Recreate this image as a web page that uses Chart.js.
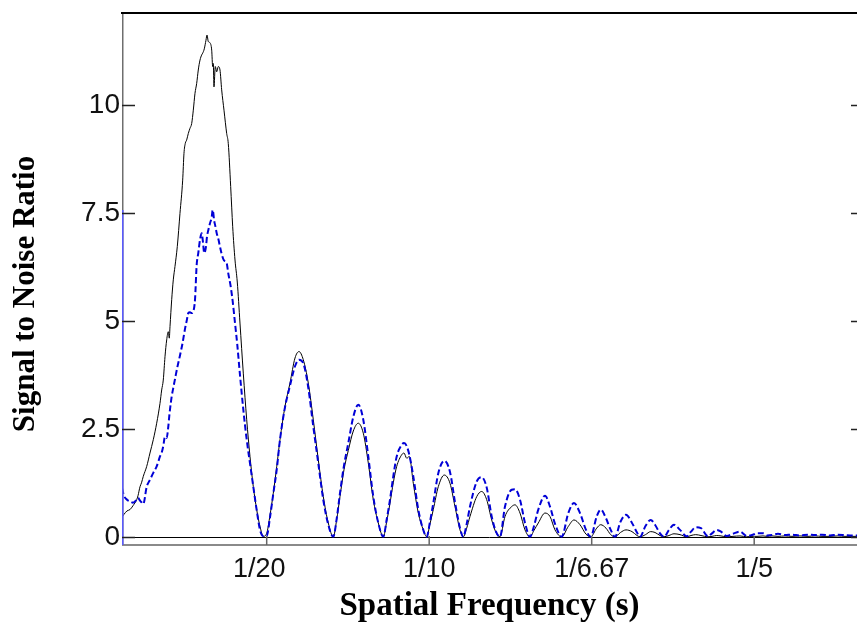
<!DOCTYPE html>
<html>
<head>
<meta charset="utf-8">
<script src="https://cdn.jsdelivr.net/npm/chart.js@4.4.1/dist/chart.umd.min.js"></script>
<style>
html,body{margin:0;padding:0;background:#fff;}
#wrap{width:857px;height:629px;position:relative;}
</style>
</head>
<body>
<div id="wrap"><canvas id="c"></canvas></div>
<script>
// Spatial frequency (1/s) of each sample
const frequency = [
0.00548,0.00609,0.00702,0.00794,0.00886,0.01000,0.01040,0.01102,0.01148,0.01203,
0.01308,0.01409,0.01511,0.01615,0.01717,0.01769,0.01818,0.01871,0.01923,0.01972,
0.02003,0.02025,0.02077,0.02126,0.02178,0.02249,0.02332,0.02415,0.02455,0.02495,
0.02538,0.02588,0.02640,0.02692,0.02742,0.02794,0.02846,0.02895,0.02948,0.03000,
0.03031,0.03080,0.03132,0.03163,0.03203,0.03255,0.03308,0.03338,0.03357,0.03378,
0.03418,0.03462,0.03511,0.03563,0.03615,0.03686,0.03769,0.03818,0.03892,0.03954,
0.04025,0.04095,0.04178,0.04280,0.04385,0.04486,0.04588,0.04692,0.04794,0.04895,
0.05000,0.05102,0.05203,0.05308,0.05409,0.05563,0.05717,0.05871,0.05994,0.06126,
0.06280,0.06434,0.06588,0.06742,0.06895,0.07049,0.07154,0.07255,0.07378,0.07511,
0.07665,0.07818,0.07972,0.08126,0.08280,0.08434,0.08588,0.08692,0.08794,0.08895,
0.09000,0.09154,0.09225,0.09308,0.09388,0.09511,0.09665,0.09818,0.09923,0.10025,
0.10126,0.10280,0.10465,0.10640,0.10794,0.10948,0.11049,0.11154,0.11255,0.11462,
0.11615,0.11769,0.11923,0.12055,0.12178,0.12332,0.12538,0.12640,0.12794,0.12948,
0.13102,0.13225,0.13357,0.13563,0.13717,0.13871,0.14077,0.14280,0.14455,0.14640,
0.14825,0.14969,0.15154,0.15277,0.15440,0.15585,0.15717,0.15886,0.16055,0.16240,
0.16394,0.16486,0.16655,0.16815,0.16948,0.17102,0.17225,0.17378,0.17532,0.17717,
0.17923,0.18055,0.18200,0.18363,0.18578,0.18702,0.18846,0.18978,0.19154,0.19348,
0.19563,0.19769,0.19932,0.20086,0.20271,0.20394,0.20548,0.20732,0.20948,0.21163,
0.21409,0.21655,0.21871,0.22086,0.22332,0.22578,0.22794,0.23009,0.23163
];
// Solid black series
const snrSolid = [
0.46,0.52,0.60,0.63,0.72,0.86,0.95,1.16,1.25,1.40,
1.63,1.94,2.25,2.63,3.09,3.40,3.63,4.17,4.56,4.75,
4.60,4.87,5.49,5.95,6.26,6.72,7.49,8.26,8.88,9.11,
9.19,9.34,9.46,9.57,9.88,10.27,10.50,10.81,11.04,11.16,
11.20,11.30,11.50,11.62,11.47,11.44,11.27,10.89,10.96,10.42,
10.89,10.77,10.89,10.81,10.35,9.88,9.34,9.11,8.11,7.18,
6.41,5.90,4.95,3.79,2.71,1.86,1.16,0.63,0.24,0.01,
0.08,0.50,1.01,1.62,2.25,3.02,3.56,4.14,4.29,4.10,
3.56,2.71,1.78,0.93,0.32,0.00,0.40,0.93,1.55,2.00,
2.45,2.63,2.40,1.71,0.86,0.32,0.00,0.35,0.78,1.25,
1.63,1.90,1.94,1.82,1.86,1.24,0.55,0.16,0.00,0.30,
0.63,1.16,1.43,1.24,0.70,0.16,0.00,0.20,0.47,0.93,
1.05,0.86,0.39,0.10,0.00,0.47,0.70,0.74,0.55,0.16,
0.00,0.15,0.32,0.55,0.47,0.16,0.00,0.24,0.39,0.28,
0.06,0.00,0.20,0.28,0.20,0.05,0.00,0.10,0.16,0.12,
0.03,0.00,0.05,0.12,0.10,0.03,0.00,0.03,0.07,0.05,
0.00,0.03,0.05,0.03,0.00,0.01,0.03,0.02,0.00,0.01,
0.02,0.00,0.01,0.01,0.02,0.01,0.02,0.01,0.02,0.01,
0.02,0.01,0.02,0.01,0.01,0.02,0.01,0.01,0.01
];
// Dashed blue series
const snrDashed = [
1.13,0.95,0.86,0.82,0.79,0.86,0.90,0.84,0.80,0.76,
1.16,1.32,1.48,1.63,1.86,1.95,2.10,2.32,2.29,2.55,
2.80,2.95,3.25,3.45,3.65,3.92,4.20,4.50,4.68,4.85,
5.00,5.18,5.20,5.18,5.22,5.49,6.30,6.57,6.88,7.03,
6.88,6.57,6.72,6.95,7.10,7.26,7.40,7.57,7.50,7.35,
7.20,7.03,6.90,6.72,6.55,6.40,6.34,6.10,5.80,5.45,
4.95,4.45,3.75,2.95,2.25,1.70,1.16,0.62,0.16,0.02,
0.02,0.45,1.00,1.55,2.25,3.00,3.50,3.95,4.10,4.02,
3.45,2.55,1.70,0.85,0.28,0.00,0.42,1.01,1.65,2.17,
2.78,3.06,2.71,1.86,0.93,0.32,0.00,0.40,0.86,1.40,
1.86,2.13,2.17,2.10,1.90,1.40,0.63,0.16,0.00,0.35,
0.78,1.47,1.76,1.50,0.80,0.20,0.00,0.30,0.70,1.28,
1.38,1.14,0.47,0.12,0.00,0.70,1.09,1.10,0.86,0.32,
0.00,0.25,0.63,0.95,0.70,0.30,0.00,0.55,0.78,0.55,
0.16,0.00,0.47,0.63,0.43,0.16,0.00,0.35,0.51,0.32,
0.10,0.00,0.25,0.39,0.28,0.08,0.00,0.16,0.28,0.16,
0.01,0.12,0.22,0.20,0.01,0.08,0.16,0.12,0.02,0.07,
0.12,0.02,0.04,0.08,0.08,0.03,0.04,0.07,0.04,0.05,
0.03,0.05,0.04,0.05,0.03,0.05,0.04,0.03,0.03
];
const xTickValues = [0.05, 0.1, 0.15, 0.2];
const xTickLabels = ['1/20  ', '1/10', '1/6.67', '1/5'];
const yTickValues = [0, 2.5, 5, 7.5, 10];
const yTickLabels = ['0', '2.5', '5', '7.5', '10'];
const xTitle = 'Spatial Frequency (s)';
const yTitle = 'Signal to Noise Ratio';

const solidPoints = frequency.map((f, i) => ({x: f, y: snrSolid[i]}));
const dashedPoints = frequency.map((f, i) => ({x: f, y: snrDashed[i]}));

const framePlugin = {
  id: 'frame',
  beforeDatasetsDraw(chart) {
    const {ctx, chartArea: a, scales: {y}} = chart;
    const y0 = Math.round(y.getPixelForValue(0)) + 0.5;
    ctx.save();
    ctx.strokeStyle = '#000';
    ctx.lineWidth = 1;
    ctx.beginPath();
    ctx.moveTo(a.left, y0);
    ctx.lineTo(a.right, y0);
    ctx.stroke();
    ctx.restore();
  },
  afterDraw(chart) {
    const {ctx, chartArea: a, scales: {x, y}} = chart;
    ctx.save();
    // bottom axis line
    ctx.strokeStyle = '#8a8a8a';
    ctx.lineWidth = 2;
    ctx.beginPath();
    ctx.moveTo(a.left, a.bottom);
    ctx.lineTo(a.right, a.bottom);
    ctx.stroke();
    // left axis line
    ctx.strokeStyle = '#6e6e6e';
    ctx.lineWidth = 1.5;
    ctx.beginPath();
    ctx.moveTo(a.left + 0.75, a.top);
    ctx.lineTo(a.left + 0.75, a.bottom);
    ctx.stroke();
    // blue overlay on left axis up to the dashed series maximum
    const blueTop = y.getPixelForValue(Math.max(...snrDashed));
    ctx.strokeStyle = '#5a5aff';
    ctx.beginPath();
    ctx.moveTo(a.left + 0.75, blueTop);
    ctx.lineTo(a.left + 0.75, a.bottom);
    ctx.stroke();
    // top border
    ctx.strokeStyle = '#000';
    ctx.lineWidth = 2.2;
    ctx.beginPath();
    ctx.moveTo(a.left - 1, a.top);
    ctx.lineTo(a.right, a.top);
    ctx.stroke();
    // y ticks (inside, left and right)
    ctx.strokeStyle = '#222';
    ctx.lineWidth = 1.3;
    yTickValues.forEach(v => {
      const py = Math.round(y.getPixelForValue(v)) + 0.5;
      ctx.beginPath();
      ctx.moveTo(a.left, py);
      ctx.lineTo(a.left + 13, py);
      ctx.moveTo(a.right - 6, py);
      ctx.lineTo(a.right, py);
      ctx.stroke();
    });
    // x ticks (inside, bottom)
    ctx.strokeStyle = '#666';
    ctx.lineWidth = 1.5;
    xTickValues.forEach(v => {
      const px = x.getPixelForValue(v);
      ctx.beginPath();
      ctx.moveTo(px, a.bottom);
      ctx.lineTo(px, a.bottom - 9);
      ctx.stroke();
    });
    // y axis title
    ctx.fillStyle = '#000';
    ctx.font = 'bold 31px "Liberation Serif", "Times New Roman", serif';
    ctx.textAlign = 'center';
    ctx.textBaseline = 'alphabetic';
    ctx.translate(34, (a.top + a.bottom) / 2 + 15);
    ctx.rotate(-Math.PI / 2);
    ctx.fillText(yTitle, 0, 0);
    ctx.restore();
  }
};

new Chart(document.getElementById('c'), {
  type: 'line',
  data: {
    datasets: [
      {
        label: 'dashed',
        data: dashedPoints,
        borderColor: 'rgb(0,0,215)',
        borderWidth: 2,
        borderDash: [6, 3],
        pointRadius: 0,
        fill: false,
        cubicInterpolationMode: 'monotone',
        order: 1
      },
      {
        label: 'solid',
        data: solidPoints,
        borderColor: '#000',
        borderWidth: 1,
        pointRadius: 0,
        fill: false,
        cubicInterpolationMode: 'monotone',
        order: 2
      }
    ]
  },
  options: {
    responsive: true,
    maintainAspectRatio: false,
    animation: false,
    layout: {padding: {top: 13, left: 0, right: 0, bottom: 0}},
    plugins: {legend: {display: false}, tooltip: {enabled: false}, title: {display: false}},
    scales: {
      x: {
        type: 'linear',
        min: 0.00548,
        max: 0.23163,
        afterBuildTicks: s => { s.ticks = xTickValues.map(v => ({value: v})); },
        afterFit: s => { s.height = 84; s.paddingLeft = 0; s.paddingRight = 0; },
        grid: {display: false, drawTicks: false},
        border: {display: false},
        ticks: {
          autoSkip: false,
          maxRotation: 0,
          padding: 8,
          color: '#111',
          font: {family: '"Liberation Sans", Arial, sans-serif', size: 27},
          callback: (v, i) => xTickLabels[i]
        },
        title: {
          display: true,
          text: xTitle,
          color: '#000',
          padding: {top: 0, bottom: 3},
          font: {family: '"Liberation Serif", "Times New Roman", serif', size: 33, weight: 'bold'}
        }
      },
      y: {
        type: 'linear',
        min: -0.19,
        max: 12.13,
        afterBuildTicks: s => { s.ticks = yTickValues.map(v => ({value: v})); },
        afterFit: s => { s.width = 122; s.paddingTop = 0; s.paddingBottom = 0; },
        grid: {display: false, drawTicks: false},
        border: {display: false},
        ticks: {
          padding: 2,
          color: '#111',
          font: {family: '"Liberation Sans", Arial, sans-serif', size: 28},
          callback: (v, i) => yTickLabels[i]
        }
      }
    }
  },
  plugins: [framePlugin]
});
</script>
</body>
</html>
